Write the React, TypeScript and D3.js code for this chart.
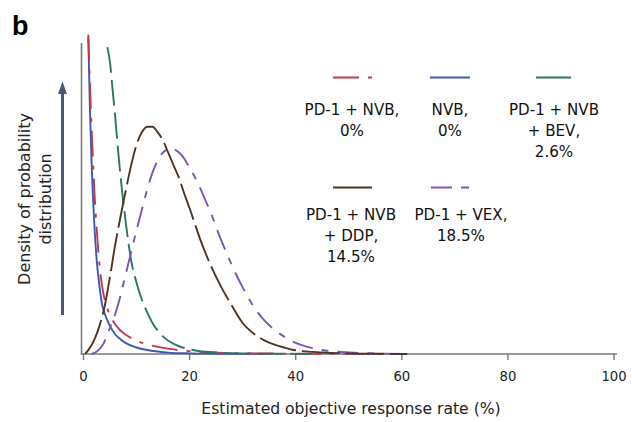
import React from "react";
import * as d3 from "d3";

// Series: [estimated ORR %, density (arbitrary units)]
const nvbPd1: [number, number][] = [
  [0.9, 103], [1.2, 88], [1.5, 74], [1.8, 62], [2.1, 51], [2.5, 40], [3, 29], [3.5, 22],
  [4, 17.5], [5, 12.5], [6, 9.5], [7, 7.5], [8, 6.2], [10, 4.3], [12, 3.1], [14, 2.3],
  [17, 1.5], [20, 0.9], [25, 0.45], [30, 0.25], [40, 0.1], [50, 0.05], [61, 0],
];
const nvb: [number, number][] = [
  [0.9, 102], [1.2, 80], [1.5, 63], [1.8, 50], [2.1, 40], [2.5, 30], [3, 22], [3.5, 16],
  [4, 13], [5, 9], [6, 6.3], [7, 4.7], [8, 3.5], [10, 2.1], [12, 1.3], [14, 0.8],
  [16, 0.45], [20, 0.2], [25, 0.1], [30, 0.05], [35, 0],
];
const bev: [number, number][] = [
  [4.5, 99], [5, 94], [5.5, 85], [6, 76], [6.5, 66], [7, 57], [7.5, 49], [8, 42], [8.5, 35.5],
  [9, 30], [10, 23], [11, 17.5], [12, 13.5], [13, 10], [14, 7.5], [15, 5.6], [16, 4.3],
  [18, 2.5], [20, 1.5], [22, 0.9], [25, 0.5], [30, 0.2], [35, 0.1], [40, 0.05], [43, 0],
];
const ddp: [number, number][] = [
  [0.3, 0], [1, 1.5], [2, 4.5], [3, 9], [4, 15.5], [5, 25], [6, 35.5], [7, 44.5], [8, 53],
  [9, 61], [10, 67.5], [11, 71.5], [12, 73.3], [13, 73.3], [14, 71.5], [15, 68.8], [16, 64.8],
  [17, 60.8], [18, 56.8], [19, 51.7], [20, 47], [22, 37], [24, 28.5], [26, 21.5], [28, 15.5],
  [30, 10], [32, 6.7], [34, 4.5], [36, 3], [38, 2], [40, 1.2], [45, 0.5], [50, 0.2], [55, 0.1], [61, 0],
];
const vex: [number, number][] = [
  [1.5, 0], [2.5, 0.8], [3.7, 3.1], [5, 8.5], [6, 13], [7, 19], [8, 26], [9, 33], [10, 40],
  [11, 46.5], [12, 53], [13, 58.5], [14, 62.5], [15, 65], [16, 66], [17, 66], [18, 65], [19, 63],
  [20, 60], [21, 57], [22, 53.5], [23, 49.5], [24, 45.5], [25, 41], [26, 36.5], [27, 32.5],
  [28, 28.5], [30, 21.5], [32, 15.5], [34, 11], [36, 7.8], [38, 5.4], [40, 3.6], [42, 2.4],
  [45, 1.3], [50, 0.5], [55, 0.2], [61, 0],
];

const xTicks = [0, 20, 40, 60, 80, 100];

const legendLabels = [
  ["PD-1 + NVB,", "0%"],
  ["NVB,", "0%"],
  ["PD-1 + NVB", "+ BEV,", "2.6%"],
  ["PD-1 + NVB", "+ DDP,", "14.5%"],
  ["PD-1 + VEX,", "18.5%"],
];

const FONT = "'DejaVu Sans', sans-serif";

export default function App() {
  const x = d3.scaleLinear().domain([0, 100]).range([83.5, 614]);
  const y = d3.scaleLinear().domain([0, 100]).range([354, 44]);
  const line = d3
    .line<[number, number]>()
    .x((d) => x(d[0]))
    .y((d) => y(d[1]))
    .curve(d3.curveMonotoneX);

  const series = [
    { data: nvb, color: "#3a58b4", dash: "none" },
    { data: nvbPd1, color: "#bf3a4c", dash: "26,9,4,9" },
    { data: bev, color: "#2d7564", dash: "26,7" },
    { data: vex, color: "#7d55b5", dash: "21,9,7,9" },
    { data: ddp, color: "#4e3523", dash: "38,6" },
  ];

  const legend = [
    { color: "#bf3a4c", dash: "26,9,4,9", x1: 333, x2: 372, lx: 352, ly: 77.5, ty: 115, lines: legendLabels[0] },
    { color: "#3a58b4", dash: "none", x1: 430, x2: 470, lx: 450, ly: 77.5, ty: 115, lines: legendLabels[1] },
    { color: "#2d7564", dash: "none", x1: 536, x2: 571, lx: 554, ly: 77.5, ty: 115, lines: legendLabels[2] },
    { color: "#4e3523", dash: "none", x1: 333, x2: 372, lx: 351, ly: 187.5, ty: 220, lines: legendLabels[3] },
    { color: "#7d55b5", dash: "21,9,8,9", x1: 431, x2: 470, lx: 461, ly: 187.5, ty: 220, lines: legendLabels[4] },
  ];

  return (
    <svg
      width={632}
      height={422}
      style={{ position: "absolute", left: 0, top: 0, background: "#fff" }}
      fontFamily={FONT}
    >
      <text x={12} y={35} fontSize={27} fontWeight="bold" fill="#000" fontFamily="'Liberation Sans', Arial, sans-serif">b</text>

      {/* axes */}
      <line x1={81.5} x2={81.5} y1={43} y2={354.5} stroke="#7a7a7a" strokeWidth={1.6} />
      <line x1={80.7} x2={617} y1={354} y2={354} stroke="#7a7a7a" strokeWidth={1.6} />
      {xTicks.map((t) => (
        <g key={t}>
          <line x1={x(t)} x2={x(t)} y1={354} y2={360} stroke="#7a7a7a" strokeWidth={1.4} />
          <text x={x(t)} y={381} fontSize={13.2} textAnchor="middle" fill="#222">{t}</text>
        </g>
      ))}
      <text x={351} y={414} fontSize={15.6} textAnchor="middle" fill="#222">
        Estimated objective response rate (%)
      </text>

      {/* y title */}
      <g transform="translate(29.5,199) rotate(-90)">
        <text x={0} y={0} fontSize={16} textAnchor="middle" fill="#222">Density of probability</text>
        <text x={0} y={21.5} fontSize={16} textAnchor="middle" fill="#222">distribution</text>
      </g>
      {/* arrow */}
      <line x1={62.5} x2={62.5} y1={315} y2={92} stroke="#4b5872" strokeWidth={3} />
      <path d="M58,94 L62.5,81.5 L67,94 Z" fill="#4b5872" />

      {/* curves */}
      {series.map((s, i) => (
        <path
          key={i}
          d={line(s.data) || ""}
          fill="none"
          stroke={s.color}
          strokeWidth={1.9}
          strokeDasharray={s.dash}
        />
      ))}

      {/* legend */}
      {legend.map((l, i) => (
        <g key={i}>
          <line x1={l.x1} x2={l.x2} y1={l.ly} y2={l.ly} stroke={l.color} strokeWidth={2} strokeDasharray={l.dash} />
          {l.lines.map((t, j) => (
            <text key={j} x={l.lx} y={l.ty + j * 21} fontSize={15.1} textAnchor="middle" fill="#111">{t}</text>
          ))}
        </g>
      ))}
    </svg>
  );
}
